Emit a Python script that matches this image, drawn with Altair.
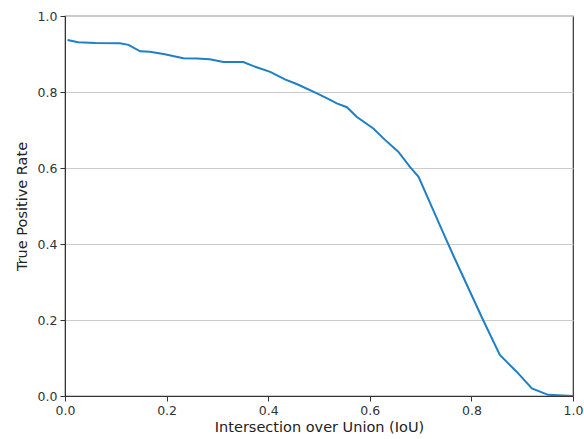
import altair as alt
import pandas as pd

iou = [0.005, 0.026, 0.06, 0.108, 0.125, 0.148, 0.167, 0.194, 0.233, 0.26, 0.285, 0.312, 0.351,
       0.371, 0.404, 0.433, 0.456, 0.495, 0.522, 0.535, 0.555, 0.574, 0.607, 0.630, 0.656,
       0.679, 0.696, 0.719, 0.745, 0.764, 0.823, 0.856, 0.889, 0.919, 0.951, 1.0]
tpr = [0.937, 0.931, 0.929, 0.928, 0.924, 0.907, 0.906, 0.900, 0.889, 0.888, 0.886, 0.879, 0.879,
       0.868, 0.853, 0.833, 0.821, 0.797, 0.779, 0.770, 0.760, 0.735, 0.704, 0.674, 0.643,
       0.603, 0.577, 0.507, 0.428, 0.371, 0.200, 0.108, 0.064, 0.020, 0.003, 0.0]

df = pd.DataFrame({"iou": iou, "tpr": tpr, "order": list(range(len(iou)))})

ticks = [0.0, 0.2, 0.4, 0.6, 0.8, 1.0]

chart = alt.Chart(df).mark_line(color="#1f7fc4", strokeWidth=2, clip=True).encode(
    x=alt.X("iou:Q", scale=alt.Scale(domain=[0, 1], nice=False, zero=False),
            axis=alt.Axis(title="Intersection over Union (IoU)", values=ticks, format=".1f",
                          grid=False, labelFlush=False)),
    y=alt.Y("tpr:Q", scale=alt.Scale(domain=[0, 1], nice=False),
            axis=alt.Axis(title="True Positive Rate", values=ticks, format=".1f",
                          grid=True)),
    order="order:Q",
).properties(
    width=508, height=380,
    autosize=alt.AutoSizeParams(type="none"),
    padding={"left": 65, "top": 16, "right": 11, "bottom": 43},
).configure_view(
    stroke="#333333", strokeWidth=1.2
).configure_axis(
    labelFont="DejaVu Sans", titleFont="DejaVu Sans",
    labelFontSize=12.5, titleFontSize=14.5, titleFontWeight="normal",
    labelColor="#333333", titleColor="#222222",
    domainColor="#333333", tickColor="#333333", tickSize=5,
    gridColor="#cccccc", gridWidth=1.2, labelPadding=3,
).configure_axisX(titlePadding=4).configure_axisY(titlePadding=8)

chart.save("out.html", embed_options={"renderer": "svg", "actions": False})
